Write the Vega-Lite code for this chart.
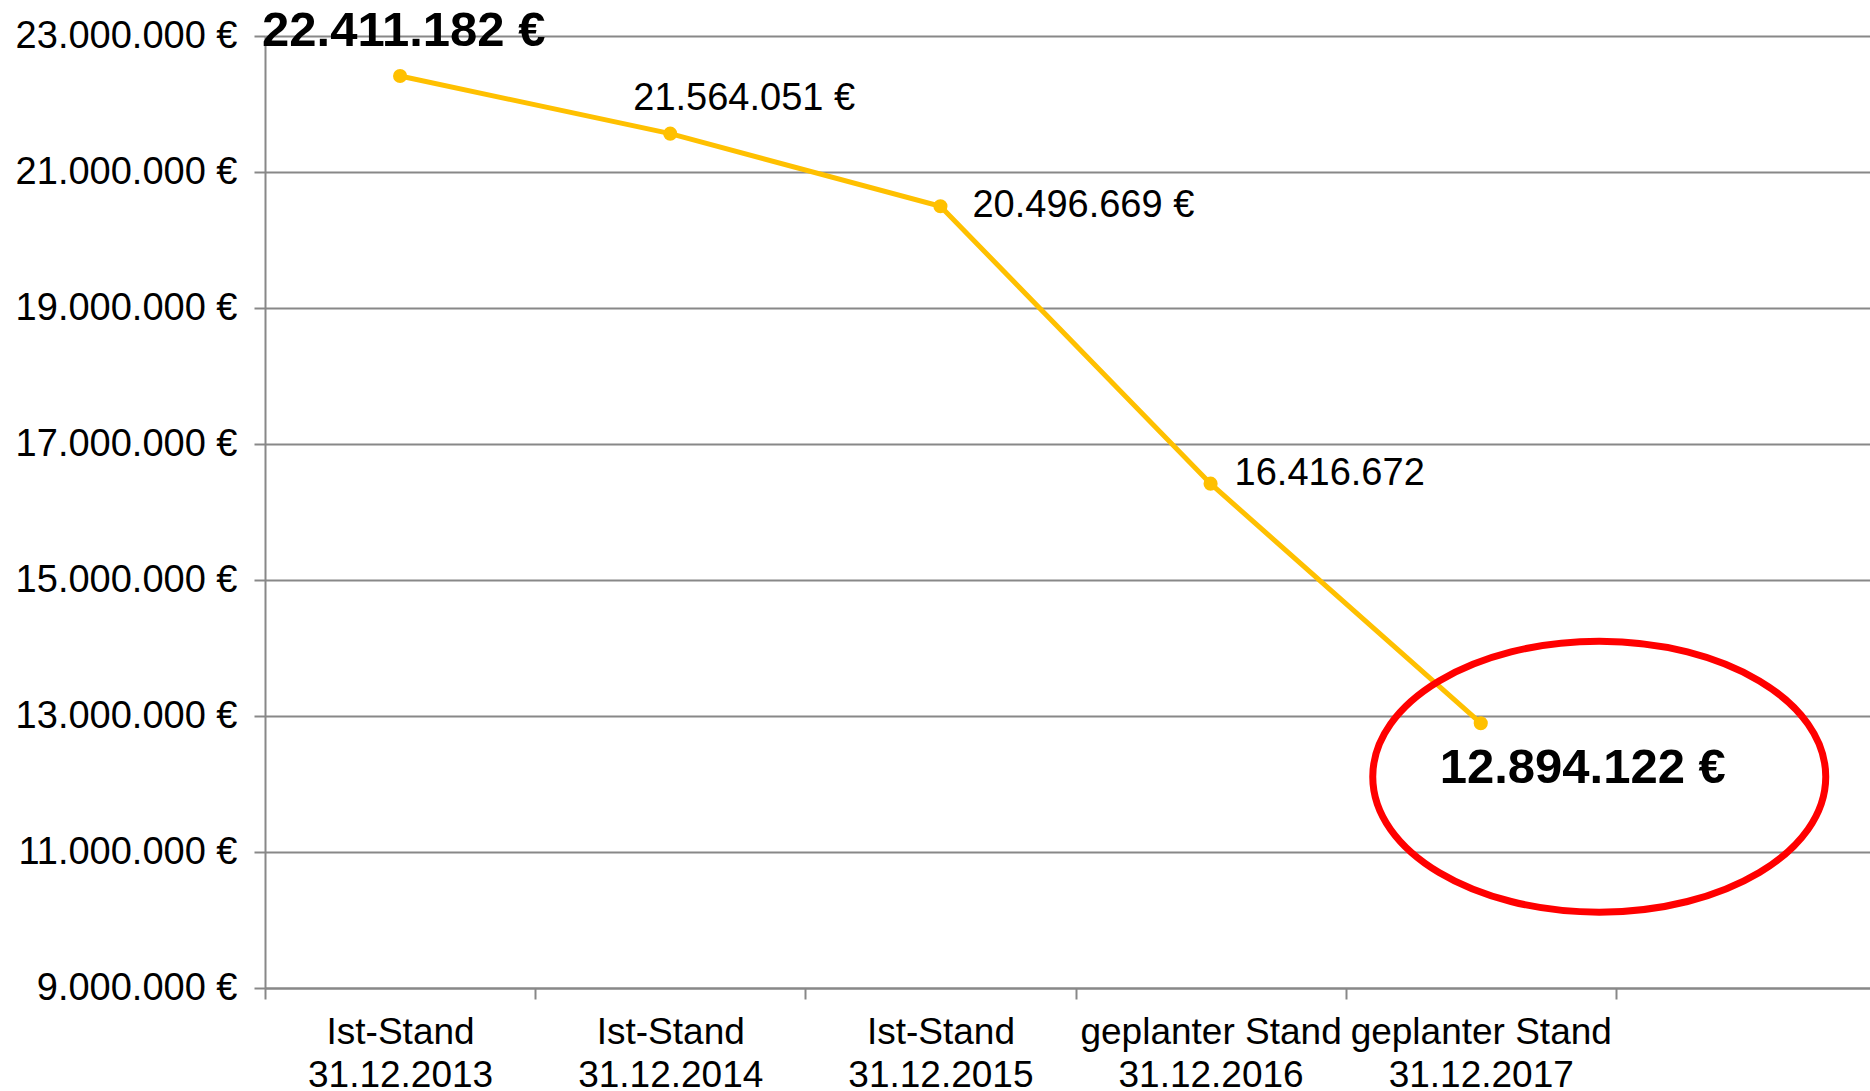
{
  "$schema": "https://vega.github.io/schema/vega-lite/v6.json",
  "autosize": "none",
  "padding": {"left": 265, "top": 36, "right": 0, "bottom": 103},
  "width": 1605,
  "height": 952,
  "background": "white",
  "config": {
    "locale": {"number": {"decimal": ",", "thousands": ".", "grouping": [3], "currency": ["", " €"]}},
    "view": {"stroke": null},
    "font": "Liberation Sans"
  },
  "data": {
    "values": [
      {"stand": "Ist-Stand|31.12.2013", "betrag": 22411182},
      {"stand": "Ist-Stand|31.12.2014", "betrag": 21564051},
      {"stand": "Ist-Stand|31.12.2015", "betrag": 20496669},
      {"stand": "geplanter Stand|31.12.2016", "betrag": 16416672},
      {"stand": "geplanter Stand|31.12.2017", "betrag": 12894122}
    ]
  },
  "encoding": {
    "x": {
      "field": "stand",
      "type": "nominal",
      "sort": null,
      "title": null,
      "scale": {
        "type": "band",
        "domain": ["Ist-Stand|31.12.2013", "Ist-Stand|31.12.2014", "Ist-Stand|31.12.2015", "geplanter Stand|31.12.2016", "geplanter Stand|31.12.2017", " "],
        "range": [0, 1621],
        "paddingInner": 0,
        "paddingOuter": 0
      },
      "axis": {
        "labelExpr": "split(datum.label, '|')",
        "labelAngle": 0,
        "labelFont": "Liberation Sans",
        "labelFontSize": 37,
        "labelColor": "black",
        "labelLineHeight": 43,
        "labelBaseline": "top",
        "labelPadding": 15,
        "labelOverlap": false,
        "labelLimit": 0,
        "labelBound": false,
        "tickBand": "extent",
        "tickSize": 11,
        "tickWidth": 2,
        "tickColor": "#888888",
        "domainColor": "#888888",
        "domainWidth": 2,
        "grid": false
      }
    },
    "y": {
      "field": "betrag",
      "type": "quantitative",
      "title": null,
      "scale": {"domain": [9000000, 23000000], "nice": false, "zero": false},
      "axis": {
        "values": [9000000, 11000000, 13000000, 15000000, 17000000, 19000000, 21000000, 23000000],
        "format": "$,.0f",
        "labelFont": "Liberation Sans",
        "labelFontSize": 38,
        "labelColor": "black",
        "labelPadding": 17,
        "labelLimit": 0,
        "labelOverlap": false,
        "labelFlush": false,
        "tickSize": 11,
        "tickWidth": 2,
        "tickColor": "#888888",
        "domainColor": "#888888",
        "domainWidth": 2,
        "grid": true,
        "gridColor": "#888888",
        "gridWidth": 2
      }
    }
  },
  "layer": [
    {"mark": {"type": "line", "color": "#FFC000", "strokeWidth": 5}},
    {"mark": {"type": "point", "filled": true, "color": "#FFC000", "opacity": 1, "size": 200}},
    {
      "transform": [{"filter": "datum.stand == 'Ist-Stand|31.12.2013'"}],
      "mark": {"type": "text", "align": "left", "baseline": "alphabetic", "dx": -138, "dy": -30, "fontSize": 49, "fontWeight": "bold", "font": "Liberation Sans", "color": "black"},
      "encoding": {"text": {"field": "betrag", "type": "quantitative", "format": "$,.0f"}}
    },
    {
      "transform": [{"filter": "datum.stand == 'Ist-Stand|31.12.2014'"}],
      "mark": {"type": "text", "align": "left", "baseline": "alphabetic", "dx": -37, "dy": -24, "fontSize": 38, "font": "Liberation Sans", "color": "black"},
      "encoding": {"text": {"field": "betrag", "type": "quantitative", "format": "$,.0f"}}
    },
    {
      "transform": [{"filter": "datum.stand == 'Ist-Stand|31.12.2015'"}],
      "mark": {"type": "text", "align": "left", "baseline": "alphabetic", "dx": 32, "dy": 11, "fontSize": 38, "font": "Liberation Sans", "color": "black"},
      "encoding": {"text": {"field": "betrag", "type": "quantitative", "format": "$,.0f"}}
    },
    {
      "transform": [{"filter": "datum.stand == 'geplanter Stand|31.12.2016'"}],
      "mark": {"type": "text", "align": "left", "baseline": "alphabetic", "dx": 24, "dy": 1, "fontSize": 38, "font": "Liberation Sans", "color": "black"},
      "encoding": {"text": {"field": "betrag", "type": "quantitative", "format": ",.0f"}}
    },
    {
      "transform": [{"filter": "datum.stand == 'geplanter Stand|31.12.2017'"}],
      "mark": {"type": "text", "align": "left", "baseline": "alphabetic", "dx": -41, "dy": 60, "fontSize": 49, "fontWeight": "bold", "font": "Liberation Sans", "color": "black"},
      "encoding": {"text": {"field": "betrag", "type": "quantitative", "format": "$,.0f"}}
    },
    {
      "transform": [{"filter": "datum.stand == 'geplanter Stand|31.12.2017'"}],
      "mark": {
        "type": "point",
        "shape": "M -1 0 A 1 0.598 0 1 0 1 0 A 1 0.598 0 1 0 -1 0 Z",
        "filled": false,
        "stroke": "#FF0000",
        "strokeWidth": 7,
        "opacity": 1,
        "size": 205209,
        "xOffset": 118.5,
        "yOffset": 53.5
      }
    }
  ]
}
